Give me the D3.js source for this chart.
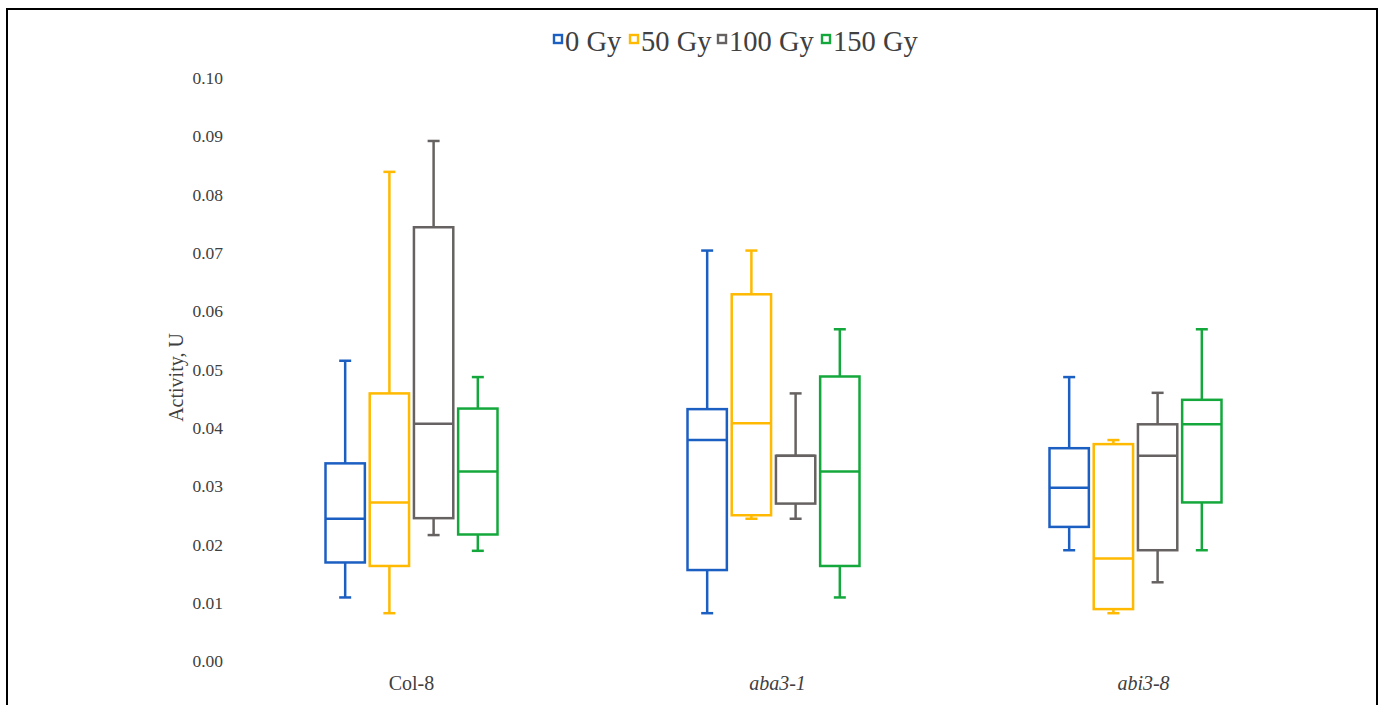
<!DOCTYPE html>
<html lang="en">
<head>
  <meta charset="utf-8">
  <title>Activity box plot</title>
  <script src="https://cdn.jsdelivr.net/npm/d3@7"></script>
  <style>
    body { margin: 0; background: #fff; }
    text { font-family: "Liberation Serif", "Times New Roman", serif; fill: #404040; }
  </style>
</head>
<body>
<div id="chart"></div>
<script>
// groups and series
var categories = ["Col-8", "aba3-1", "abi3-8"];
var series = ["0 Gy", "50 Gy", "100 Gy", "150 Gy"];
var colors = ["#1c5fc2", "#ffb900", "#676262", "#14a83c"];
var yTicks = [0, 0.01, 0.02, 0.03, 0.04, 0.05, 0.06, 0.07, 0.08, 0.09, 0.10];

// five-number summaries per series, one value per category: [min, q1, median, q3, max]
var gy0   = [[0.0109, 0.0169, 0.0244, 0.0339, 0.0515], [0.0082, 0.0156, 0.0379, 0.0432, 0.0704], [0.0190, 0.0230, 0.0297, 0.0365, 0.0487]];
var gy50  = [[0.0082, 0.0163, 0.0272, 0.0459, 0.0839], [0.0244, 0.0250, 0.0408, 0.0629, 0.0704], [0.0082, 0.0089, 0.0176, 0.0372, 0.0379]];
var gy100 = [[0.0216, 0.0245, 0.0407, 0.0744, 0.0892], [0.0244, 0.0270, 0.0352, 0.0352, 0.0459], [0.0135, 0.0190, 0.0352, 0.0406, 0.0460]];
var gy150 = [[0.0189, 0.0217, 0.0325, 0.0433, 0.0487], [0.0109, 0.0163, 0.0325, 0.0488, 0.0569], [0.0190, 0.0272, 0.0406, 0.0448, 0.0569]];
var seriesValues = [gy0, gy50, gy100, gy150];

var W = 1382, H = 705;

var svg = d3.select("#chart").append("svg")
    .attr("width", W)
    .attr("height", H);

// outer frame
svg.append("rect")
    .attr("x", 7).attr("y", 9)
    .attr("width", 1370).attr("height", 710)
    .attr("fill", "none")
    .attr("stroke", "#000")
    .attr("stroke-width", 2);

var yScale = d3.scaleLinear()
    .domain([0, 0.10])
    .range([661, 78]);

var x0 = d3.scaleBand()
    .domain(categories)
    .range([230.5, 1316.5]);

var x1 = d3.scaleBand()
    .domain(series)
    .range([95, 267])
    .paddingInner(0.11);

// y axis labels (no axis line)
var yAxis = svg.append("g")
    .attr("transform", "translate(223,0)")
    .call(d3.axisLeft(yScale).tickValues(yTicks).tickFormat(d3.format(".2f")).tickSize(0).tickPadding(0));
yAxis.select(".domain").remove();
yAxis.selectAll("text")
    .style("font-family", "'Liberation Serif', serif")
    .style("font-size", "17.5px")
    .attr("fill", "#404040");

svg.append("text")
    .attr("transform", "translate(176," + (yScale(0.05) + 8) + ") rotate(-90)")
    .attr("text-anchor", "middle")
    .attr("dy", "0.35em")
    .style("font-size", "20px")
    .text("Activity, U");

// category labels
svg.append("g").selectAll("text")
    .data(categories)
  .enter().append("text")
    .attr("x", function(d, i) { return x0(d) + x0.bandwidth() / 2 + i * 4; })
    .attr("y", 690)
    .attr("text-anchor", "middle")
    .style("font-size", "20px")
    .style("font-style", function(d, i) { return i === 0 ? "normal" : "italic"; })
    .text(function(d) { return d; });

// boxes
var boxData = [];
series.forEach(function(s, si) {
  categories.forEach(function(c, ci) {
    var v = seriesValues[si][ci];
    boxData.push({cat: c, ser: s, color: colors[si], min: v[0], q1: v[1], med: v[2], q3: v[3], max: v[4]});
  });
});

var boxes = svg.append("g").selectAll(".box")
    .data(boxData)
  .enter().append("g")
    .attr("class", "box")
    .attr("transform", function(d) { return "translate(" + (x0(d.cat) + x1(d.ser)) + ",0)"; })
    .attr("stroke", function(d) { return d.color; })
    .attr("stroke-width", 2.5)
    .attr("fill", "none");

var bw = x1.bandwidth(), cap = 6;

// whiskers
boxes.append("line")
    .attr("x1", bw / 2).attr("x2", bw / 2)
    .attr("y1", function(d) { return yScale(d.max); })
    .attr("y2", function(d) { return yScale(d.q3); });
boxes.append("line")
    .attr("x1", bw / 2).attr("x2", bw / 2)
    .attr("y1", function(d) { return yScale(d.q1); })
    .attr("y2", function(d) { return yScale(d.min); });
boxes.append("line")
    .attr("x1", bw / 2 - cap).attr("x2", bw / 2 + cap)
    .attr("y1", function(d) { return yScale(d.max); })
    .attr("y2", function(d) { return yScale(d.max); });
boxes.append("line")
    .attr("x1", bw / 2 - cap).attr("x2", bw / 2 + cap)
    .attr("y1", function(d) { return yScale(d.min); })
    .attr("y2", function(d) { return yScale(d.min); });

boxes.append("rect")
    .attr("x", 0)
    .attr("width", bw)
    .attr("y", function(d) { return yScale(d.q3); })
    .attr("height", function(d) { return yScale(d.q1) - yScale(d.q3); })
    .attr("fill", "#fff");

boxes.append("line")
    .attr("x1", 0).attr("x2", bw)
    .attr("y1", function(d) { return yScale(d.med); })
    .attr("y2", function(d) { return yScale(d.med); });

// legend
var legendX = [553, 629, 717, 821];
var legend = svg.append("g").selectAll("g")
    .data(series)
  .enter().append("g")
    .attr("transform", function(d, i) { return "translate(" + legendX[i] + ",0)"; });
legend.append("rect")
    .attr("x", 1).attr("y", 35)
    .attr("width", 8).attr("height", 8)
    .attr("fill", "#fff")
    .attr("stroke", function(d, i) { return colors[i]; })
    .attr("stroke-width", 2.4);
legend.append("text")
    .attr("x", 12)
    .attr("y", 51)
    .style("font-size", "28.5px")
    .text(function(d) { return d; });
</script>
</body>
</html>
